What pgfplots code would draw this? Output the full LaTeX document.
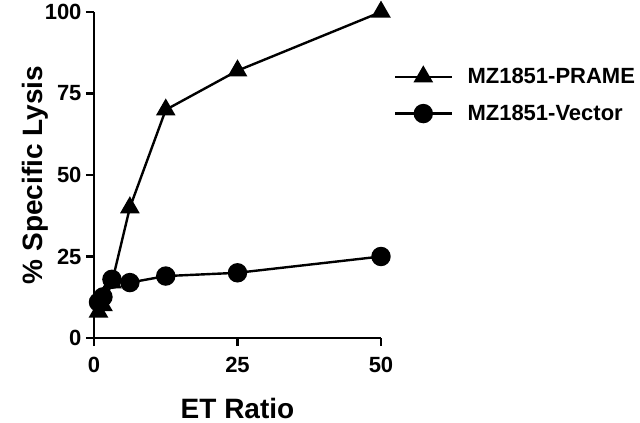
\documentclass[border=0pt]{standalone}
\usepackage{fontspec}
\setmainfont{Liberation Sans}
\usepackage{pgfplots}
\pgfplotsset{compat=1.18}
\begin{document}
\begin{tikzpicture}
\begin{axis}[
  scale only axis,
  width=287bp, height=326bp,
  xmin=0, xmax=50, ymin=0, ymax=100,
  axis x line=bottom, axis y line=left,
  axis line style={-, line width=2.4bp},
  xtick={0,25,50}, ytick={0,25,50,75,100},
  tick align=outside, major tick length=8bp,
  tick style={line width=2.4bp, black},
  /pgf/number format/assume math mode=true,
  ticklabel style={font=\fontsize{22bp}{24bp}\selectfont\bfseries},
  xticklabel style={yshift=-8bp},
  yticklabel style={xshift=-1bp},
  xlabel={ET Ratio}, ylabel={\% Specific Lysis},
  label style={font=\fontsize{28bp}{30bp}\selectfont\bfseries},
  xlabel style={yshift=-18bp},
  ylabel style={yshift=-10bp},
  clip=false,
  legend style={draw=none, fill=none, at={(1.045,0.834)}, anchor=north west,
    font=\fontsize{22bp}{24bp}\selectfont\bfseries,
    row sep=16bp, inner sep=0pt,
    /tikz/every odd column/.append style={column sep=12bp}},
  legend cell align=left,
  legend image code/.code={
    \draw[mark repeat=2, mark phase=2] plot coordinates {(0bp,0bp) (28bp,0bp) (57bp,0bp)};},
]
\addplot[black, line width=2.4bp, mark=triangle*, mark size=9bp, mark options={solid}]
  coordinates {(0.78,8) (1.56,10) (3.125,17) (6.25,40) (12.5,70) (25,82) (50,100)};
\addlegendentry{MZ1851-PRAME}
\addplot[black, line width=2.4bp, mark=*, mark size=8.5bp]
  coordinates {(0.78,11) (1.56,12.6) (3.125,18) (6.25,17) (12.5,19) (25,20) (50,25)};
\addlegendentry{MZ1851-Vector}
\end{axis}
\pgfresetboundingbox
\useasboundingbox (-94bp,-85bp) rectangle (546bp,338bp);
\end{tikzpicture}
\end{document}
